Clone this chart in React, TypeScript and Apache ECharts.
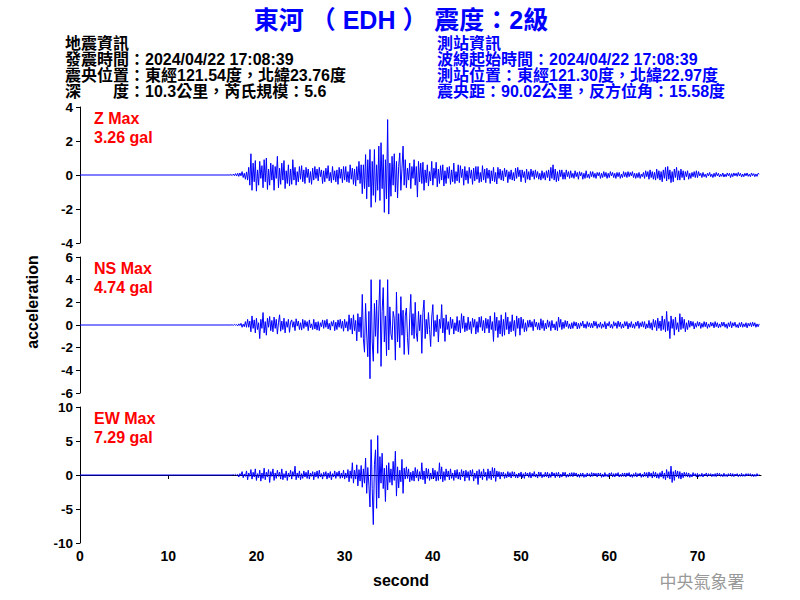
import React, { useEffect, useRef } from "react";
import * as echarts from "echarts";

// ---- data ----
const X_MAX = 77.2;
const X_TICKS = [0, 10, 20, 30, 40, 50, 60, 70];
const START = 17; // seconds, first sample of the waveform arrays
const STEP = 0.125; // seconds between samples (8 per row = 1 s)

const Y_RANGES = [
  { min: -4, max: 4, interval: 2 },
  { min: -6, max: 6, interval: 2 },
  { min: -10, max: 10, interval: 5 },
];
const LABELS = ["Z Max", "NS Max", "EW Max"];
const MAX_VALUES = ["3.26 gal", "4.74 gal", "7.29 gal"];

const Z_VALUES = [
  0, 0.02, -0.03, 0.05, -0.04, 0.08, -0.06, 0.1,
  -0.08, 0.12, -0.05, 0.2, -0.15, 0.1, -0.25, 0.18,
  -0.3, 0.45, -0.6, 1.25, -0.9, 0.7, -0.4, 0.85,
  -0.95, 0.3, -0.6, 0.8, -0.2, 0.55, -0.75, 0.9,
  -0.4, 1.0, -0.85, 0.35, -0.6, 0.7, -0.3, 0.6,
  -0.9, 0.5, -0.2, 1.1, -0.75, 0.4, -0.55, 0.7,
  -0.3, 0.85, -0.8, 0.25, -0.5, 0.6, -0.65, 0.35,
  -0.55, 0.9, -0.3, 0.45, -0.6, 0.2, -0.4, 0.5,
  -0.25, 0.55, -0.4, 0.3, -0.5, 0.45, -0.15, 0.35,
  -0.45, 0.2, -0.55, 0.4, -0.3, 0.5, -0.2, 0.35,
  -0.35, 0.45, -0.1, 0.3, -0.5, 0.25, -0.4, 0.4,
  -0.2, 0.55, -0.35, 0.15, -0.45, 0.5, -0.3, 0.25,
  -0.4, 0.3, -0.55, 0.45, -0.2, 0.35, -0.45, 0.5,
  -0.3, 0.5, -0.4, 0.2, -0.45, 0.6, -0.25, 0.4,
  -0.55, 0.35, -0.65, 0.5, -0.3, 0.8, -0.5, 0.6,
  -1.1, 0.6, -0.8, 1.2, -1.4, 0.9, -0.7, 1.5,
  -1.9, 0.8, -1.2, 1.5, -1.6, 0.6, -0.9, 1.7,
  -1.5, 1.9, -0.8, 1.2, -2.2, 0.9, -1.4, 3.26,
  -2.3, 0.7, -1.25, 1.1, -0.6, 1.25, -1.0, 0.8,
  -1.35, 0.5, 1.3, -0.9, 0.4, 1.7, -0.6, 0.9,
  -0.75, 0.4, -0.3, 0.7, -0.8, 0.5, -0.2, 0.9,
  -0.6, 0.5, -1.3, 0.8, -0.4, 0.7, -0.5, 0.75,
  -0.9, 0.3, -0.45, 0.6, -0.65, 0.2, -0.35, 0.8,
  -0.6, 0.4, -0.2, 0.75, -0.7, 0.35, -0.5, 0.55,
  -0.3, 0.6, -0.65, 0.25, -0.5, 0.45, -0.2, 0.5,
  -0.55, 0.3, -0.4, 0.7, -0.5, 0.2, -0.35, 0.6,
  -0.45, 0.55, -0.15, 0.35, -0.6, 0.5, -0.3, 0.25,
  -0.5, 0.45, -0.2, 0.3, -0.55, 0.4, -0.35, 0.5,
  -0.25, 0.5, -0.45, 0.15, -0.4, 0.55, -0.3, 0.35,
  -0.45, 0.4, -0.2, 0.3, -0.5, 0.25, -0.35, 0.45,
  -0.4, 0.15, -0.53, 0.45, -0.2, 0.35, -0.3, 0.25,
  -0.35, 0.4, -0.1, 0.3, -0.45, 0.2, -0.25, 0.3,
  -0.3, 0.15, -0.35, 0.4, -0.2, 0.45, -0.1, 0.3,
  -0.4, 0.3, -0.15, 0.2, -0.45, 0.35, -0.25, 0.2,
  -0.3, 0.35, -0.1, 0.25, -0.25, 0.3, -0.15, 0.2,
  -0.25, 0.1, -0.3, 0.25, -0.2, 0.15, -0.3, 0.25,
  -0.15, 0.3, -0.35, 0.45, -0.2, 0.6, -0.3, 0.35,
  -0.4, 0.2, -0.35, 0.3, -0.1, 0.3, -0.25, 0.15,
  -0.25, 0.3, -0.1, 0.2, -0.2, 0.25, -0.15, 0.1,
  -0.2, 0.25, -0.1, 0.15, -0.25, 0.2, -0.05, 0.15,
  -0.25, 0.1, -0.2, 0.25, -0.15, 0.05, -0.2, 0.2,
  -0.1, 0.2, -0.15, 0.1, -0.2, 0.15, -0.05, 0.15,
  -0.2, 0.1, -0.15, 0.2, -0.1, 0.15, -0.2, 0.1,
  -0.15, 0.2, -0.05, 0.15, -0.15, 0.1, -0.2, 0.15,
  -0.1, 0.15, -0.2, 0.05, -0.15, 0.2, -0.1, 0.15,
  -0.15, 0.2, -0.1, 0.15, -0.05, 0.2, -0.15, 0.1,
  -0.2, 0.1, -0.15, 0.15, -0.2, 0.05, -0.1, 0.15,
  -0.2, 0.25, -0.1, 0.2, -0.25, 0.3, -0.15, 0.2,
  -0.25, 0.15, -0.3, 0.35, -0.2, 0.25, -0.3, 0.2,
  -0.4, 0.3, -0.2, 0.45, -0.35, 0.5, -0.25, 0.3,
  -0.45, 0.2, -0.4, 0.35, -0.15, 0.45, -0.3, 0.25,
  -0.3, 0.35, -0.15, 0.25, -0.3, 0.2, -0.1, 0.25,
  -0.25, 0.1, -0.2, 0.15, -0.1, 0.2, -0.15, 0.25,
  -0.15, 0.2, -0.05, 0.1, -0.15, 0.15, -0.1, 0.05,
  -0.15, 0.1, -0.05, 0.15, -0.1, 0.05, -0.15, 0.1,
  -0.1, 0.15, -0.05, 0.1, -0.12, 0.05, -0.08, 0.12,
  -0.12, 0.05, -0.1, 0.12, -0.05, 0.1, -0.15, 0.08,
  -0.1, 0.12, -0.05, 0.1, -0.08, 0.15, -0.05, 0.1,
  -0.12, 0.06, -0.1, 0.1, -0.05, 0.12, -0.08, 0.05,
  -0.1, 0.12, -0.04, 0.08, -0.1, 0.06, -0.08, 0.1,
  0.05,
];

const NS_VALUES = [
  0, 0, 0.02, -0.03, 0.05, -0.02, 0.04, -0.08,
  0.1, -0.05, 0.15, -0.2, 0.08, -0.15, 0.3, -0.2,
  0.5, -0.2, 0.35, -0.6, 0.8, -0.3, 0.45, -0.7,
  0.6, -0.4, 0.2, -1.2, 0.5, -0.3, 1.1, -0.7,
  0.3, -0.9, 0.6, -0.2, 0.75, -0.5, 0.4, -0.6,
  0.7, -0.3, 0.5, -0.8, 0.2, 0.9, -0.55, 0.35,
  -0.4, 0.6, -0.7, 0.3, -0.2, 0.5, -0.65, 0.25,
  0.45, -0.2, 0.3, -0.5, 0.55, -0.1, 0.35, -0.4,
  0.2, -0.45, 0.5, -0.3, 0.4, -0.15, 0.3, -0.5,
  0.45, -0.25, 0.1, -0.4, 0.5, -0.35, 0.25, -0.45,
  0.3, -0.5, 0.2, -0.15, 0.45, -0.3, 0.4, -0.2,
  0.5, -0.35, 0.15, -0.45, 0.3, -0.1, 0.4, -0.5,
  0.25, -0.4, 0.45, -0.2, 0.5, -0.3, 0.35, -0.55,
  0.5, -0.25, 0.3, -0.55, 0.9, -0.4, 0.6, -0.8,
  0.9, -0.5, 0.4, -1.4, 1.0, -0.6, 0.7, -1.1,
  2.7, -1.2, -2.4, 1.9, -0.8, -2.8, 1.2, -4.74,
  4.0, -1.5, -3.2, 1.9, -1.0, 2.2, -2.5, 1.4,
  4.0, -3.65, 1.2, 3.3, -1.5, 0.8, -2.7, 4.0,
  -2.2, 1.6, -0.8, -1.3, 1.2, 0.6, -3.1, 2.9,
  -1.5, 1.0, -2.0, 2.5, -0.9, 1.3, -2.6, 0.8,
  1.5, -1.1, -2.6, 0.6, 2.7, -0.9, 1.0, -1.2,
  2.0, -0.7, -1.45, 1.2, -0.5, 0.9, -2.5, 1.1,
  2.2, -1.2, 0.5, -0.8, 1.1, -0.4, -1.9, 0.7,
  1.8, -1.0, 0.4, -0.6, 0.9, -1.5, 0.5, -0.3,
  1.8, -0.7, 0.6, -1.45, 0.9, -0.4, 0.3, -0.85,
  0.7, -0.3, 0.5, -0.8, 0.2, -0.5, 0.75, -0.6,
  0.4, -0.7, 1.0, -0.3, 0.8, -0.6, 0.2, -0.5,
  0.7, -0.4, 0.3, -0.75, 0.6, -0.2, 0.5, -0.8,
  0.3, -0.65, 0.7, -0.2, 0.75, -0.5, 0.4, -0.7,
  0.6, -0.3, 0.5, -0.7, 0.8, -0.4, 0.3, -1.45,
  1.1, -0.5, 0.7, -1.1, 0.4, -0.8, 0.9, -1.0,
  0.5, -0.9, 1.1, -0.4, 0.7, -0.8, 0.3, -0.6,
  0.9, -0.5, 0.4, -1.0, 0.8, -0.3, 0.6, -0.9,
  0.7, -0.3, 0.5, -0.6, 0.2, -0.55, 0.4, -0.2,
  0.45, -0.2, 0.3, -0.5, 0.5, -0.15, 0.25, -0.4,
  0.2, -0.45, 0.55, -0.3, 0.4, -0.5, 0.15, -0.35,
  0.45, -0.2, 0.3, -0.5, 0.4, -0.25, 0.1, -0.45,
  0.3, -0.5, 0.7, -0.2, 0.5, -0.4, 0.25, -0.3,
  0.4, -0.15, 0.35, -0.3, 0.1, -0.35, 0.2, -0.3,
  0.3, -0.1, 0.25, -0.35, 0.15, -0.3, 0.2, -0.1,
  0.35, -0.25, 0.1, -0.3, 0.3, -0.15, 0.2, -0.25,
  0.15, -0.25, 0.35, -0.1, 0.3, -0.3, 0.1, -0.2,
  0.25, -0.3, 0.1, -0.2, 0.3, -0.35, 0.15, -0.1,
  0.3, -0.25, 0.05, -0.3, 0.3, -0.1, 0.2, -0.3,
  0.35, -0.15, 0.25, -0.3, 0.1, -0.25, 0.3, -0.1,
  0.3, -0.35, 0.15, -0.2, 0.3, -0.25, 0.1, -0.3,
  0.25, -0.1, 0.35, -0.3, 0.2, -0.15, 0.3, -0.2,
  0.3, -0.35, 0.1, -0.25, 0.4, -0.3, 0.2, -0.45,
  0.5, -0.2, 0.4, -0.5, 0.6, -0.3, 0.35, -0.5,
  0.8, -0.4, 0.5, -0.6, 1.2, -0.5, 0.3, -1.2,
  0.8, -0.3, 0.5, -0.9, 0.7, -0.4, 0.2, -0.6,
  1.0, -0.4, 0.7, -0.3, 0.5, -0.6, 0.2, -0.4,
  0.4, -0.2, 0.35, -0.1, 0.3, -0.35, 0.15, -0.2,
  0.3, -0.1, 0.25, -0.3, 0.15, -0.2, 0.3, -0.15,
  0.25, -0.3, 0.1, -0.2, 0.25, -0.1, 0.2, -0.25,
  0.3, -0.15, 0.2, -0.25, 0.1, -0.2, 0.25, -0.1,
  0.25, -0.2, 0.1, -0.3, 0.2, -0.15, 0.3, -0.25,
  0.2, -0.1, 0.25, -0.2, 0.05, -0.25, 0.2, -0.15,
  0.25, -0.2, 0.1, -0.15, 0.2, -0.25, 0.15, -0.1,
  0.2, -0.15, 0.25, -0.1, 0.2, -0.2, 0.1, -0.15,
  0.1,
];

const EW_VALUES = [
  0, 0, 0, 0.05, -0.03, 0.1, -0.05, 0.1,
  -0.3, 0.2, -0.1, 0.5, -0.4, 0.15, -0.2, 0.6,
  -0.7, 0.3, -0.2, 0.8, -0.6, 0.4, -0.3, 0.9,
  -0.8, 0.2, -0.4, 0.7, -0.9, 0.3, -0.5, 1.0,
  -0.7, 0.4, -0.3, 0.8, -1.1, 0.5, -0.2, 0.9,
  -0.8, 0.3, -0.5, 0.7, -0.2, 0.4, -0.6, 0.9,
  -0.7, 0.2, -0.4, 0.6, -0.8, 0.3, -0.3, 0.7,
  -0.6, 0.5, -0.2, 1.3, -0.7, 0.3, -0.4, 0.6,
  -0.7, 0.2, -0.5, 0.6, -0.3, 0.4, -0.5, 0.7,
  -0.6, 0.3, -0.2, 0.5, -0.7, 0.4, -0.3, 0.6,
  -0.5, 0.7, -0.3, 0.2, -0.6, 0.4, -0.2, 0.5,
  -0.6, 0.3, -0.4, 0.5, -0.7, 0.2, -0.3, 0.6,
  -0.5, 0.4, -0.2, 0.6, -0.5, 0.3, -0.4, 0.7,
  -0.6, 0.3, -0.4, 0.8, -1.0, 0.6, -0.5, 1.8,
  -1.2, 0.7, -0.6, 1.5, -1.6, 0.8, -0.9, 1.4,
  -1.8, 0.9, -1.2, 2.5, -2.7, 1.1, -1.5, -4.7,
  5.2, -2.0, -7.29, 1.5, 3.7, -4.9, 5.8, -3.4,
  2.7, -1.2, 3.2, -2.0, 1.0, -3.9, 1.4, -2.2,
  1.8, -1.1, 0.9, -1.5, 2.0, -0.8, 3.5, -3.1,
  1.2, -1.9, 0.7, -1.0, 2.3, -2.7, 1.0, -0.6,
  1.2, -0.5, 0.9, -1.0, 0.4, -0.8, 0.6, -0.9,
  1.1, -0.4, 0.8, -0.9, 0.5, -0.6, 1.8, -0.7,
  0.6, -1.3, 1.0, -0.5, 0.9, -0.8, 0.3, -0.6,
  1.0, -0.4, 0.7, -0.9, 0.5, -0.8, 1.8, -0.6,
  1.2, -1.0, 0.5, -0.8, 0.9, -0.3, 0.6, -0.7,
  0.9, -0.5, 0.3, -0.8, 0.7, -0.4, 0.8, -0.6,
  0.4, -0.7, 0.8, -0.3, 0.6, -0.9, 0.7, -0.4,
  0.5, -0.8, 0.7, -0.2, 0.8, -0.9, 0.3, -0.5,
  0.6, -1.4, 0.8, -0.4, 0.5, -0.7, 0.9, -0.3,
  0.4, -0.8, 0.9, -0.5, 0.6, -0.7, 1.1, -0.4,
  1.0, -0.95, 0.6, -0.3, 0.5, -0.6, 0.4, -0.2,
  0.45, -0.5, 0.2, -0.4, 0.5, -0.3, 0.35, -0.45,
  0.5, -0.2, 0.45, -0.4, 0.15, -0.45, 0.3, -0.25,
  0.45, -0.4, 0.2, -0.5, 0.4, -0.15, 0.3, -0.35,
  0.4, -0.45, 0.25, -0.2, 0.5, -0.3, 0.15, -0.45,
  0.45, -0.2, 0.4, -0.4, 0.1, -0.3, 0.4, -0.25,
  0.4, -0.45, 0.2, -0.35, 0.45, -0.15, 0.3, -0.4,
  0.35, -0.2, 0.4, -0.4, 0.15, -0.3, 0.4, -0.1,
  0.4, -0.35, 0.1, -0.3, 0.3, -0.2, 0.35, -0.25,
  0.35, -0.1, 0.3, -0.3, 0.15, -0.35, 0.25, -0.2,
  0.3, -0.35, 0.1, -0.3, 0.3, -0.15, 0.2, -0.3,
  0.35, -0.2, 0.3, -0.1, 0.25, -0.3, 0.3, -0.15,
  0.3, -0.35, 0.15, -0.3, 0.35, -0.2, 0.1, -0.3,
  0.3, -0.1, 0.35, -0.3, 0.2, -0.3, 0.25, -0.15,
  0.35, -0.3, 0.1, -0.25, 0.3, -0.2, 0.3, -0.3,
  0.3, -0.15, 0.35, -0.3, 0.1, -0.35, 0.2, -0.2,
  0.35, -0.3, 0.2, -0.1, 0.3, -0.35, 0.15, -0.3,
  0.4, -0.2, 0.35, -0.4, 0.45, -0.2, 0.3, -0.45,
  0.5, -0.3, 0.4, -0.45, 0.2, -0.5, 0.35, -0.3,
  0.6, -0.5, 0.3, -0.7, 0.8, -0.4, 0.5, -0.6,
  1.3, -1.1, 0.5, -0.8, 0.7, -0.3, 0.6, -0.5,
  0.5, -0.6, 0.3, -0.4, 0.4, -0.2, 0.35, -0.3,
  0.3, -0.35, 0.1, -0.3, 0.35, -0.15, 0.2, -0.3,
  0.25, -0.3, 0.1, -0.2, 0.25, -0.3, 0.15, -0.1,
  0.3, -0.25, 0.2, -0.1, 0.2, -0.25, 0.15, -0.2,
  0.2, -0.25, 0.3, -0.1, 0.25, -0.2, 0.1, -0.25,
  0.25, -0.2, 0.1, -0.25, 0.2, -0.15, 0.25, -0.2,
  0.2, -0.25, 0.15, -0.1, 0.2, -0.25, 0.1, -0.2,
  0.25, -0.2, 0.1, -0.2, 0.2, -0.15, 0.2, -0.1,
  0.2, -0.2, 0.15, -0.25, 0.1, -0.2, 0.2, -0.15,
  0.1,
];

const TITLE = "東河 （ EDH ） 震度：2級";
const LEFT_INFO = [
  "地震資訊",
  "發震時間：2024/04/22 17:08:39",
  "震央位置：東經121.54度，北緯23.76度",
  "深　　度：10.3公里，芮氏規模：5.6",
];
const RIGHT_INFO = [
  "測站資訊",
  "波線起始時間：2024/04/22 17:08:39",
  "測站位置：東經121.30度，北緯22.97度",
  "震央距：90.02公里，反方位角：15.58度",
];
const X_NAME = "second";
const Y_NAME = "acceleration";
const WATERMARK = "中央氣象署";

// ---- layout ----
const GRID_LEFT = 80;
const GRID_RIGHT = 39;
const GRID_TOPS = [107, 257, 407];
const GRID_HEIGHT = 136;
const FONT = '"Liberation Sans", Arial, "Noto Sans CJK TC", sans-serif';
const BLUE = "#0000ff";

function toSeries(values: number[]): number[][] {
  const d: number[][] = [[0, 0]];
  values.forEach((v, i) => d.push([START + i * STEP, v]));
  return d;
}

export default function App() {
  const ref = useRef<HTMLDivElement>(null);
  useEffect(() => {
    if (!ref.current) return;
    const chart = echarts.init(ref.current, null, { renderer: "svg" });
    const traces = [Z_VALUES, NS_VALUES, EW_VALUES];

    const graphic: any[] = [
      {
        type: "text",
        x: 401,
        y: 20,
        style: {
          text: TITLE,
          fill: BLUE,
          font: `bold 25px ${FONT}`,
          textAlign: "center",
          textVerticalAlign: "middle",
        },
      },
    ];
    LEFT_INFO.forEach((t, i) =>
      graphic.push({
        type: "text",
        x: 65,
        y: 43 + i * 16,
        style: { text: t, fill: "#000", font: `bold 16px ${FONT}`, textVerticalAlign: "middle" },
      })
    );
    RIGHT_INFO.forEach((t, i) =>
      graphic.push({
        type: "text",
        x: 437,
        y: 43 + i * 16,
        style: { text: t, fill: BLUE, font: `bold 16px ${FONT}`, textVerticalAlign: "middle" },
      })
    );
    GRID_TOPS.forEach((top, i) => {
      graphic.push({
        type: "text",
        x: 94,
        y: top + 11,
        style: { text: LABELS[i], fill: "#ff0000", font: `bold 16px ${FONT}`, textVerticalAlign: "middle" },
      });
      graphic.push({
        type: "text",
        x: 94,
        y: top + 30,
        style: { text: MAX_VALUES[i], fill: "#ff0000", font: `bold 16px ${FONT}`, textVerticalAlign: "middle" },
      });
    });
    graphic.push({
      type: "text",
      x: 401,
      y: 580,
      style: { text: X_NAME, fill: "#000", font: `bold 16px ${FONT}`, textAlign: "center", textVerticalAlign: "middle" },
    });
    graphic.push({
      type: "text",
      x: 32,
      y: 302,
      rotation: Math.PI / 2,
      style: { text: Y_NAME, fill: "#000", font: `bold 16px ${FONT}`, textAlign: "center", textVerticalAlign: "middle" },
    });
    graphic.push({
      type: "text",
      x: 702,
      y: 580,
      style: {
        text: WATERMARK,
        fill: "#999999",
        font: `17px "Noto Sans CJK TC", sans-serif`,
        textAlign: "center",
        textVerticalAlign: "middle",
      },
    });

    const option: any = {
      animation: false,
      backgroundColor: "#ffffff",
      grid: GRID_TOPS.map((top) => ({
        left: GRID_LEFT,
        right: GRID_RIGHT,
        top,
        height: GRID_HEIGHT,
        containLabel: false,
      })),
      xAxis: GRID_TOPS.map((_, i) => ({
        type: "value",
        gridIndex: i,
        min: 0,
        max: X_MAX,
        show: i === 2,
        axisLine: { show: true, lineStyle: { color: "#000", width: 1 } },
        axisTick: { show: true, length: 4, customValues: X_TICKS, lineStyle: { color: "#000" } },
        axisLabel: {
          customValues: X_TICKS,
          color: "#000",
          fontWeight: "bold",
          fontSize: 14,
          fontFamily: FONT,
          margin: 6,
        },
        splitLine: { show: false },
      })),
      yAxis: Y_RANGES.map((r, i) => ({
        type: "value",
        gridIndex: i,
        min: r.min,
        max: r.max,
        interval: r.interval,
        axisLine: { show: true, lineStyle: { color: "#000", width: 1 } },
        axisTick: { show: true, length: 4, lineStyle: { color: "#000" } },
        axisLabel: {
          color: "#000",
          fontWeight: "bold",
          fontSize: 13.5,
          lineHeight: 12,
          fontFamily: FONT,
          margin: 7,
        },
        splitLine: { show: false },
      })),
      series: traces.map((vals, i) => ({
        type: "line",
        xAxisIndex: i,
        yAxisIndex: i,
        data: toSeries(vals),
        symbol: "none",
        showSymbol: false,
        silent: true,
        lineStyle: { color: BLUE, width: 1 },
      })),
      graphic,
    };
    chart.setOption(option);
    return () => chart.dispose();
  }, []);

  return (
    <div
      ref={ref}
      style={{ position: "fixed", left: 0, top: 0, width: 800, height: 600, background: "#fff" }}
    />
  );
}
